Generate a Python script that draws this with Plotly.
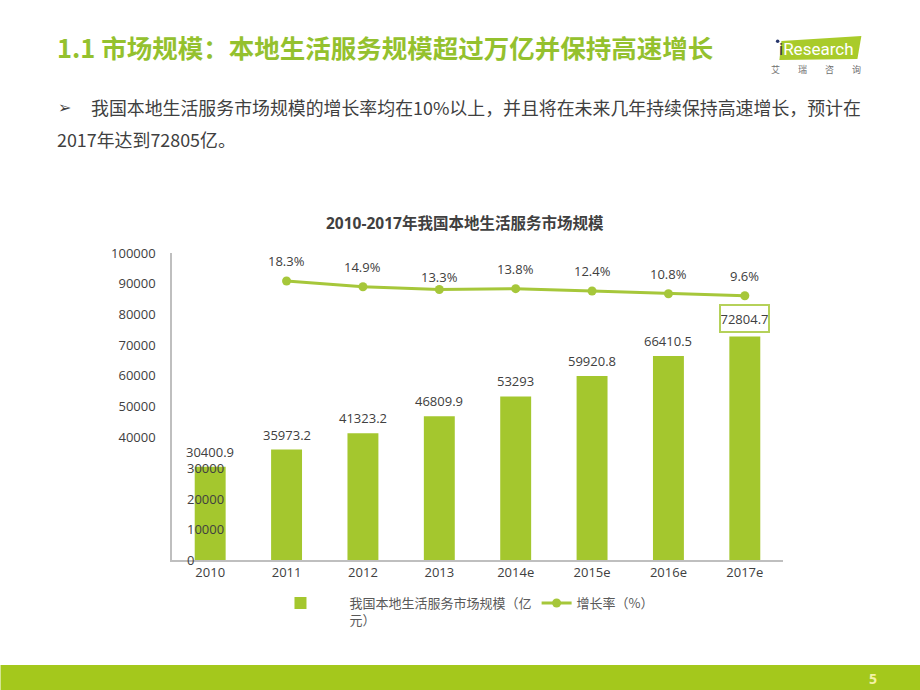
import plotly.graph_objects as go

# ---------------- data ----------------
years = ["2010", "2011", "2012", "2013", "2014e", "2015e", "2016e", "2017e"]
market_size = [30400.9, 35973.2, 41323.2, 46809.9, 53293, 59920.8, 66410.5, 72804.7]
market_labels = ["30400.9", "35973.2", "41323.2", "46809.9", "53293", "59920.8", "66410.5", "72804.7"]
rate_years = ["2011", "2012", "2013", "2014e", "2015e", "2016e", "2017e"]
growth_rate = [18.3, 14.9, 13.3, 13.8, 12.4, 10.8, 9.6]
rate_labels = ["18.3%", "14.9%", "13.3%", "13.8%", "12.4%", "10.8%", "9.6%"]
outer_ticks = [40000, 50000, 60000, 70000, 80000, 90000, 100000]
inner_ticks = [0, 10000, 20000, 30000]

page_title = "1.1 市场规模：本地生活服务规模超过万亿并保持高速增长"
bullet_line1 = "我国本地生活服务市场规模的增长率均在10%以上，并且将在未来几年持续保持高速增长，预计在"
bullet_line2 = "2017年达到72805亿。"
chart_title = "2010-2017年我国本地生活服务市场规模"
bar_name = "我国本地生活服务市场规模（亿<br>元）"
line_name = "增长率（%）"
logo_sub = ["艾", "瑞", "咨", "询"]
page_no = "5"

# ---------------- layout helpers ----------------
L, R, T, B = 171.5, 782.6, 253.0, 560.0
W, H = R - L, B - T
def px(x):
    return (x - L) / W
def py(y):
    return (B - y) / H

GREEN = "#A4C72E"
LINE_GREEN = "#A6C73A"
TITLE_GREEN = "#94C12E"
TXT = "#404040"
FONT = "Open Sans, Noto Sans CJK SC, sans-serif"
CJK = "Noto Sans CJK SC, sans-serif"

pad = "\u00a0" * 10
fig = go.Figure()
fig.add_trace(go.Bar(
    x=years, y=market_size, name=pad + bar_name.replace("<br>", "<br>" + pad),
    marker=dict(color=GREEN, line=dict(width=0)), yaxis="y",
))
fig.add_trace(go.Scatter(
    x=rate_years, y=growth_rate, name=line_name, mode="lines+markers",
    line=dict(color=LINE_GREEN, width=3), marker=dict(color=LINE_GREEN, size=9),
    yaxis="y2",
))

ann = []
# bar value labels (category index positions)
for yr, v, lab in zip(years, market_size, market_labels):
    a = dict(x=years.index(yr), y=v, xref="x", yref="y", text=lab, showarrow=False,
             yanchor="middle", yshift=15, font=dict(family=FONT, size=13, color=TXT))
    if yr == years[-1]:
        a.update(yshift=18, bordercolor="#B5D15A", borderwidth=2, borderpad=0,
                 width=47, height=25, bgcolor="white")
    ann.append(a)
# rate labels
rate_shift = [20, 20, 13, 20, 20, 20, 20]
for yr, v, lab, s in zip(rate_years, growth_rate, rate_labels, rate_shift):
    ann.append(dict(x=years.index(yr), y=v, xref="x", yref="y2", text=lab, showarrow=False,
                    yanchor="middle", yshift=s, font=dict(family=FONT, size=13, color=TXT)))
# inner axis labels
for t in inner_ticks:
    ann.append(dict(x=px(185), y=t, xref="paper", yref="y", text=str(t), showarrow=False,
                    xanchor="left", yanchor="middle", font=dict(family=FONT, size=13, color=TXT)))
# chart title
ann.append(dict(x=px(465), y=py(223), xref="paper", yref="paper", text="<b>" + chart_title + "</b>",
                showarrow=False, xanchor="center", yanchor="middle",
                font=dict(family=FONT, size=15.5, color=TXT)))
# page title
ann.append(dict(x=px(54), y=py(47), xref="paper", yref="paper", text="<b>" + page_title + "</b>",
                showarrow=False, xanchor="left", yanchor="middle",
                font=dict(family=CJK, size=25.5, color=TITLE_GREEN)))
# bullet
ann.append(dict(x=px(55), y=py(107), xref="paper", yref="paper", text="➢",
                showarrow=False, xanchor="left", yanchor="middle",
                font=dict(family="DejaVu Sans", size=16, color=TXT)))
ann.append(dict(x=px(88), y=py(107), xref="paper", yref="paper", text=bullet_line1,
                showarrow=False, xanchor="left", yanchor="middle",
                font=dict(family=CJK, size=17.9, color=TXT)))
ann.append(dict(x=px(54), y=py(139), xref="paper", yref="paper", text=bullet_line2,
                showarrow=False, xanchor="left", yanchor="middle",
                font=dict(family=CJK, size=17.9, color=TXT)))
# logo text
ann.append(dict(x=px(816), y=py(49), xref="paper", yref="paper",
                text="<span style='color:#3C3C50'>i</span>Research",
                showarrow=False, xanchor="center", yanchor="middle",
                font=dict(family="Roboto", size=17, color="white")))
for i, ch in enumerate(logo_sub):
    ann.append(dict(x=px(775 + 27 * i), y=py(69), xref="paper", yref="paper", text=ch,
                    showarrow=False, xanchor="center", yanchor="middle",
                    font=dict(family=CJK, size=9, color="#707070")))
# page number
ann.append(dict(x=px(873), y=py(678), xref="paper", yref="paper", text="<b>" + page_no + "</b>",
                showarrow=False, xanchor="center", yanchor="middle",
                font=dict(family=FONT, size=14, color="#F4F2A6")))

shapes = [
    dict(type="rect", xref="paper", yref="paper", x0=px(0), x1=px(920), y0=py(690), y1=py(665),
         fillcolor="#A4C81C", line=dict(width=0), layer="below"),
    dict(type="path", xref="paper", yref="paper",
         path=f"M{px(781)},{py(41)} L{px(861)},{py(36)} L{px(857)},{py(59)} L{px(779)},{py(60)} Z",
         fillcolor="#A9CB2A", line=dict(width=0), layer="below"),
    dict(type="circle", xref="paper", yref="paper", x0=px(775.5), x1=px(779), y0=py(43), y1=py(39.5),
         fillcolor="#27366B", line=dict(width=0)),
]

fig.update_layout(
    width=920, height=690,
    margin=dict(l=L, r=920 - R, t=T, b=690 - B, autoexpand=False),
    paper_bgcolor="white", plot_bgcolor="white",
    bargap=0.595,
    font=dict(family=FONT, size=13, color=TXT),
    xaxis=dict(type="category", range=[-0.5, len(years) - 0.5], showline=True,
               linecolor="#BFBFBF", linewidth=1.5,
               showgrid=False, ticks="", tickfont=dict(size=13, color=TXT), fixedrange=True),
    yaxis=dict(range=[0, 100000], showline=True, linecolor="#BFBFBF", linewidth=1.5,
               showgrid=False, zeroline=False, tickvals=outer_ticks,
               ticktext=[str(t) for t in outer_ticks], ticklabelstandoff=12,
               tickfont=dict(size=13, color=TXT)),
    yaxis2=dict(range=[-146.8, 34.9], overlaying="y", visible=False),
    showlegend=True,
    legend=dict(orientation="h", x=px(280), xanchor="left", y=py(588), yanchor="top",
                font=dict(family=CJK, size=13, color="#595959"), valign="top",
                bgcolor="rgba(0,0,0,0)", tracegroupgap=0),
    annotations=ann, shapes=shapes,
)

fig.write_html("out.html", config={"displayModeBar": False},
               post_script="document.body.style.margin='0';document.body.style.overflow='hidden';")
